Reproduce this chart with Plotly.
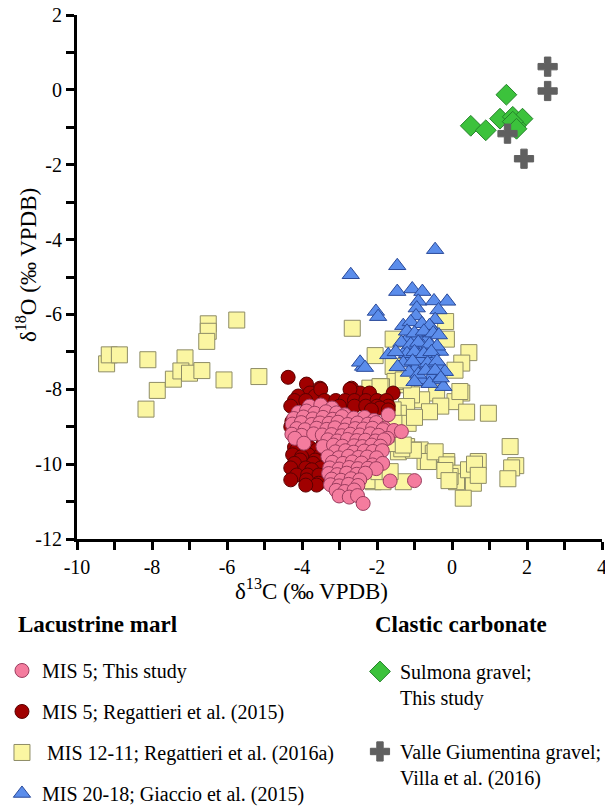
import plotly.graph_objects as go

# ---------------- data ----------------
# MIS 12-11; Regattieri et al. (2016a)  (yellow squares)
mis1211_c13 = [-9.21, -9.14, -8.87, -8.11, -7.86, -8.16, -7.12, -7.43, -7.23, -7.00, -6.67,
               -6.50, -6.50, -6.54, -5.74, -6.08, -5.15,
               -2.66, -1.57, -0.17, -0.15, 0.45, 0.26, 0.08, -2.05, -1.57, -0.99, -1.21, -1.52,
               -1.88, -2.19, -0.41, -0.81, 0.26, 0.08, 0.39, 0.97, -1.08, -1.21, -1.43, -1.48,
               -1.17, -1.48, -1.21, -0.85, -0.50, -0.72, -0.14, -1.43, -1.57, -1.30, -1.92, 0.21,
               -2.10, -1.30, -0.63, -0.45, -0.14, 0.12, 0.70, 0.57, 0.30, 0.12, -0.05, 0.44, 0.60,
               0.70, -0.19, -0.08, 1.55, 1.70, 1.59, 1.49, -1.03, -1.34, -2.18, -1.66, -1.55,
               -2.05, -1.92, -1.30, -2.14, -1.84, -1.75, -1.95, -1.65, -2.00, -0.30, -0.60, -1.00]
mis1211_o18 = [-7.32, -7.08, -7.08, -7.21, -8.03, -8.53, -7.16, -7.73, -7.51, -7.57, -7.50,
               -6.25, -6.45, -6.72, -6.15, -7.75, -7.66,
               -6.37, -6.66, -6.19, -6.66, -7.02, -7.30, -7.49, -7.10, -7.39, -7.70, -7.88, -7.79,
               -7.93, -7.97, -8.10, -8.28, -8.10, -8.33, -8.61, -8.64, -8.15, -8.46, -8.64, -9.00,
               -8.91, -9.44, -9.53, -9.62, -9.71, -9.93, -9.93, -9.67, -8.55, -7.75, -7.93, -8.06,
               -10.47, -10.47, -9.93, -9.67, -10.02, -10.24, -9.93, -10.51, -10.91, -10.47, -10.33,
               -10.15, -10.00, -10.30, -10.17, -10.44, -9.53, -10.04, -10.10, -10.39, -9.63, -9.59,
               -10.44, -9.45, -8.91, -9.44, -9.00, -9.49, -10.07, -10.47, -9.20, -10.20, -10.20,
               -9.55, -8.45, -8.60, -8.75]

# MIS 20-18; Giaccio et al. (2015)  (blue triangles)
mis2018_c13 = [-0.45, -1.46, -1.46, -1.06, -0.79, -0.90, -0.48, -0.13, -2.03, -1.97, -0.94,
               -0.36, -0.96, -0.45, -0.54, -1.17, -0.90, -0.67, -0.77, -1.03, -1.25, -0.32,
               -0.50, -0.85, -1.17, -0.67, -0.32, -0.99, -0.54, -0.36, -0.81, -0.19, -0.23,
               -1.70, -2.37, -2.70, -2.45, -2.32,
               -1.30, -1.10, -0.80, -0.60, -1.20, -1.00, -0.75, -0.50, -0.35, -1.35, -1.10,
               -0.90, -0.60, -0.40, -1.20, -1.00, -0.75, -0.55, -1.30, -1.05, -0.65, -0.40,
               -1.15, -0.90, -0.70, -0.45, -1.00, -0.60, -0.30, -1.45, -1.50]
mis2018_o18 = [-4.27, -4.70, -5.39, -5.32, -5.39, -5.65, -5.64, -5.65, -5.92, -6.06, -5.83,
               -5.88, -6.04, -6.14, -6.37, -6.63, -6.59, -6.68, -6.86, -6.90, -6.99, -6.99,
               -7.17, -7.21, -7.21, -7.39, -7.39, -7.44, -7.66, -7.75, -7.75, -7.53, -7.93,
               -7.08, -7.39, -4.94, -7.28, -7.42,
               -6.30, -6.20, -6.25, -6.30, -6.45, -6.50, -6.45, -6.50, -6.55, -6.75, -6.80,
               -6.75, -6.80, -6.85, -7.05, -7.00, -7.05, -7.00, -7.30, -7.25, -7.30, -7.25,
               -7.55, -7.60, -7.50, -7.50, -7.80, -7.85, -7.70, -7.40, -7.00]

# MIS 5; Regattieri et al. (2015)  (dark red circles)
mis5r_c13 = [-4.37, -3.88, -3.52, -2.68, -3.79, -2.45, -2.20, -1.57, -4.10, -3.65, -3.50, -2.72,
             -4.20, -3.90, -3.40, -3.10, -2.85, -2.60, -2.30, -2.00, -1.75,
             -4.30, -3.00, -2.60, -2.30, -2.00, -1.70, -1.92, -1.70, -2.15,
             -4.27, -4.30, -4.14, -3.43, -4.05, -4.20, -3.80, -4.14, -3.60, -3.83, -4.25, -3.50,
             -4.01, -3.34, -4.05, -3.65, -3.70, -4.20, -4.30, -3.90, -3.50, -3.74, -4.14, -3.85,
             -3.55, -3.88, -4.30, -3.56, -3.61, -3.90]
mis5r_o18 = [-7.68, -7.86, -7.97, -7.97, -8.10, -8.10, -8.10, -8.10, -8.18, -8.18, -8.00, -8.00,
             -8.30, -8.30, -8.30, -8.30, -8.30, -8.30, -8.30, -8.30, -8.30,
             -8.45, -8.45, -8.45, -8.45, -8.45, -8.45, -8.50, -8.55, -8.55,
             -8.86, -9.00, -9.31, -9.44, -9.44, -9.55, -9.55, -9.62, -9.62, -9.75, -9.75, -9.75,
             -9.80, -9.80, -9.89, -9.89, -9.98, -9.98, -10.10, -10.10, -10.10, -10.15, -10.29,
             -10.29, -10.29, -10.42, -10.42, -10.51, -10.56, -10.56]

# MIS 5; This study  (pink circles)
mis5t_c13 = [-3.80, -3.50, -3.20,
             -4.10, -3.88, -3.66, -3.36, -3.08, -2.86,
             -4.22, -3.96, -3.71, -3.44, -3.18, -2.93, -2.62, -2.33, -2.08, -1.70,
             -4.26, -4.02, -3.74, -3.52, -3.28, -3.04, -2.78, -2.52, -2.24, -2.02, -1.80,
             -4.14, -3.92, -3.61, -3.34, -3.12, -2.86, -2.58, -2.36, -2.12, -1.84, -1.55, -1.35,
             -4.27, -4.01, -3.69, -3.46, -3.21, -2.94, -2.71, -2.46, -2.18, -1.96, -1.72,
             -4.19, -3.95, -3.31, -3.06, -2.79, -2.54, -2.31, -2.04, -1.81,
             -3.44, -3.16, -2.92, -2.61, -2.39, -2.14, -1.91,
             -3.11, -2.84, -2.62, -2.34, -2.11, -1.86,
             -3.31, -3.02, -2.76, -2.49, -2.26, -2.01,
             -3.19, -2.91, -2.66, -2.41, -2.12, -1.85,
             -3.26, -3.01, -2.74, -2.51, -2.24, -2.02,
             -3.29, -3.06, -2.81, -2.54, -2.31,
             -3.21, -2.96, -2.69, -2.46, -1.65, -1.00,
             -3.24, -3.01, -2.76, -2.51,
             -3.09, -2.86, -2.61,
             -3.01, -2.74, -2.52,
             -2.37]
mis5t_o18 = [-8.45, -8.42, -8.50,
             -8.62, -8.58, -8.64, -8.60, -8.63, -8.68,
             -8.78, -8.74, -8.79, -8.75, -8.80, -8.73, -8.77, -8.75, -8.83, -8.68,
             -8.93, -8.89, -8.94, -8.90, -8.91, -8.88, -8.94, -8.90, -8.93, -8.89, -9.04,
             -9.05, -9.08, -9.04, -9.07, -9.03, -9.09, -9.05, -9.06, -9.04, -9.08, -9.10, -9.13,
             -9.20, -9.23, -9.19, -9.22, -9.21, -9.24, -9.20, -9.22, -9.19, -9.23, -9.31,
             -9.31, -9.44, -9.35, -9.38, -9.34, -9.37, -9.36, -9.38, -9.35,
             -9.53, -9.49, -9.52, -9.51, -9.53, -9.49, -9.52,
             -9.67, -9.64, -9.68, -9.65, -9.66, -9.64,
             -9.80, -9.83, -9.79, -9.82, -9.81, -9.83,
             -9.95, -9.98, -9.94, -9.97, -10.02, -9.98,
             -10.10, -10.13, -10.09, -10.12, -10.11, -10.12,
             -10.25, -10.28, -10.24, -10.27, -10.24,
             -10.40, -10.43, -10.39, -10.42, -10.45, -10.44,
             -10.55, -10.58, -10.54, -10.57,
             -10.70, -10.73, -10.69,
             -10.85, -10.88, -10.84,
             -11.05]

# Sulmona gravel; This study  (green diamonds)
sulmona_c13 = [0.50, 0.90, 1.45, 1.28, 1.62, 1.88, 1.70, 1.62, 1.72]
sulmona_o18 = [-0.96, -1.08, -0.13, -0.77, -0.72, -0.77, -0.95, -0.85, -1.04]

# Valle Giumentina gravel; Villa et al. (2016)  (grey crosses)
valle_c13 = [2.55, 2.55, 1.48, 1.92]
valle_o18 = [0.62, -0.03, -1.17, -1.84]

x_ticks = [-10, -8, -6, -4, -2, 0, 2, 4]
y_ticks = [2, 0, -2, -4, -6, -8, -10, -12]

FONT = "Liberation Serif"

fig = go.Figure()

def add(xs, ys, name, symbol, fill, line, size, rank, legend, group):
    fig.add_trace(go.Scatter(
        x=xs, y=ys, mode="markers", name=name,
        marker=dict(symbol=symbol, color=fill, size=size,
                    line=dict(color=line, width=1)),
        legendrank=rank, legend=legend, legendgroup=group,
        hoverinfo="x+y+name",
    ))

# drawing order: yellow, blue, red, pink, green, grey
add(mis1211_c13, mis1211_o18, "\u00a0MIS 12-11; Regattieri et al. (2016a)", "square",
    "#FBF6A2", "#8E8C66", 16, 3, "legend", "g3")
add(mis2018_c13, mis2018_o18, "MIS 20-18; Giaccio et al. (2015)", "triangle-up",
    "#5B8DEB", "#2A4A9A", 15, 4, "legend", "g4")
add(mis5r_c13, mis5r_o18, "MIS 5; Regattieri et al. (2015)", "circle",
    "#A00000", "#5A0000", 14, 2, "legend", "g2")
add(mis5t_c13, mis5t_o18, "MIS 5; This study", "circle",
    "#F47C9E", "#9A3C5E", 14, 1, "legend", "g1")
add(sulmona_c13, sulmona_o18, "Sulmona gravel;<br>This study", "diamond",
    "#3CC23C", "#24822A", 16, 5, "legend2", "g5")
add(valle_c13, valle_o18, "Valle Giumentina gravel;<br>Villa et al. (2016)", "cross",
    "#606060", "#606060", 16, 6, "legend2", "g6")

axis_common = dict(
    showline=True, linecolor="black", linewidth=3,
    ticks="outside", ticklen=8, tickwidth=2.5, tickcolor="black",
    showgrid=False, zeroline=False, mirror=False, automargin=False,
    ticklabeloverflow="allow",
    tickfont=dict(family=FONT, size=20, color="black"),
)

# page body has an 8px margin, so the figure is 605x801 placed at (8, 8)
fig.update_layout(
    width=605, height=801,
    margin=dict(l=69, r=11, t=7, b=270, autoexpand=False),
    paper_bgcolor="white", plot_bgcolor="white",
    font=dict(family=FONT, size=20, color="black"),
    xaxis=dict(range=[-10, 4], tickvals=x_ticks, ticktext=[str(v) for v in x_ticks],
               minor=dict(dtick=1, ticks="outside", ticklen=8, tickwidth=2.5, tickcolor="black"),
               **axis_common),
    yaxis=dict(range=[-12, 2], tickvals=y_ticks, ticktext=[str(v) for v in y_ticks],
               minor=dict(dtick=1, ticks="outside", ticklen=8, tickwidth=2.5, tickcolor="black"),
               **axis_common),
    legend=dict(xref="paper", yref="paper", x=-0.1429, y=-0.2137,
                xanchor="left", yanchor="top", traceorder="grouped",
                tracegroupgap=12, bgcolor="rgba(0,0,0,0)", borderwidth=0,
                font=dict(family=FONT, size=20, color="black"), valign="top"),
    legend2=dict(xref="paper", yref="paper", x=0.539, y=-0.2156,
                 xanchor="left", yanchor="top", traceorder="grouped",
                 tracegroupgap=25, bgcolor="rgba(0,0,0,0)", borderwidth=0,
                 font=dict(family=FONT, size=20, color="black"), valign="top"),
    showlegend=True,
    annotations=[
        dict(text="\u03b4<sup>13</sup>C (\u2030 VPDB)", xref="paper", yref="paper",
             x=0.4476, y=-0.0973, xanchor="center", yanchor="middle", showarrow=False,
             font=dict(family=FONT, size=23, color="black")),
        dict(text="\u03b4<sup>18</sup>O (\u2030 VPDB)", xref="paper", yref="paper",
             x=-0.095, y=0.523, xanchor="center", yanchor="middle", showarrow=False,
             textangle=-90, font=dict(family=FONT, size=23, color="black")),
        dict(text="<b>Lacustrine marl</b>", xref="paper", yref="paper",
             x=-0.116, y=-0.164, xanchor="left", yanchor="middle", showarrow=False,
             font=dict(family=FONT, size=23, color="black")),
        dict(text="<b>Clastic carbonate</b>", xref="paper", yref="paper",
             x=0.564, y=-0.164, xanchor="left", yanchor="middle", showarrow=False,
             font=dict(family=FONT, size=23, color="black")),
    ],
)

fig.write_html("out.html")
